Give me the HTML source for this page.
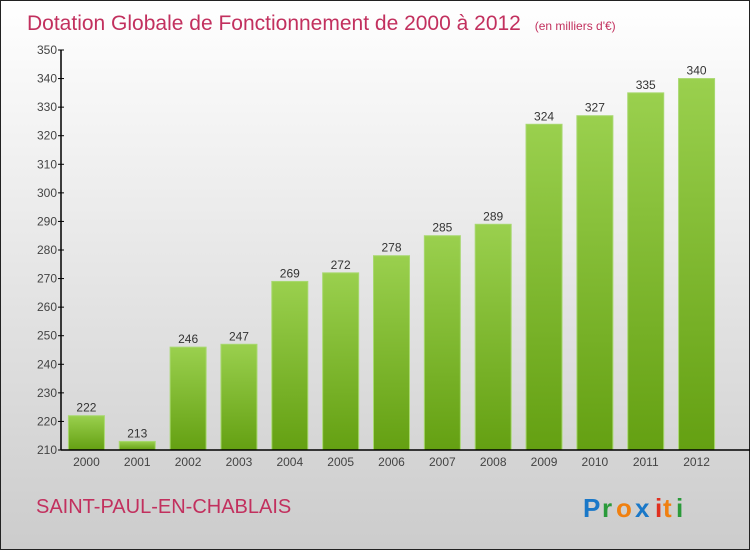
<!DOCTYPE html>
<html><head><meta charset="utf-8"><style>
body{margin:0;width:750px;height:550px;overflow:hidden}
svg{display:block}
text{font-family:"Liberation Sans",sans-serif}
</style></head><body>
<svg id="c" width="750" height="550">
<defs>
<linearGradient id="bg" x1="0" y1="0" x2="0" y2="1"><stop offset="0" stop-color="#ffffff"/><stop offset="1" stop-color="#cccccc"/></linearGradient>
<linearGradient id="bar" x1="0" y1="0" x2="0" y2="1"><stop offset="0" stop-color="#9ad04e"/><stop offset="1" stop-color="#64a012"/></linearGradient>
</defs>
<rect x="0.5" y="0.5" width="749" height="549" fill="url(#bg)" stroke="#222"/>
<text x="27" y="30" font-size="21" fill="#c2305e">Dotation Globale de Fonctionnement de 2000 à 2012 <tspan font-size="12" dx="8">(en milliers d'€)</tspan></text>
<text x="36" y="513" font-size="20" fill="#c2305e">SAINT-PAUL-EN-CHABLAIS</text>
<g font-size="26" font-weight="bold" font-family="Liberation Sans,sans-serif">
<text x="583" y="517" fill="#1a78c8">P</text><text x="602" y="517" fill="#2a9a3a">r</text><text x="616" y="517" fill="#f08010">o</text><text x="635" y="517" fill="#1a78c8">x</text><text x="655" y="517" fill="#e03020">i</text><text x="663" y="517" fill="#f08010">t</text><text x="676" y="517" fill="#2a9a3a">i</text>
</g>
<g id="plot"></g>
</svg>
<script>
const years=["2000","2001","2002","2003","2004","2005","2006","2007","2008","2009","2010","2011","2012"];
const values=[222,213,246,247,269,272,278,285,289,324,327,335,340];
const yTicks=[210,220,230,240,250,260,270,280,290,300,310,320,330,340,350];
const NS="http://www.w3.org/2000/svg";
const g=document.getElementById('plot');
const x0=61,x1=722,yMin=210,yMax=350,pTop=50,pBot=450;
const y=v=>pBot-(v-yMin)/(yMax-yMin)*(pBot-pTop);
const step=(x1-x0)/years.length;
const xc=i=>x0+step*(i+0.5);
function mk(t,a){const e=document.createElementNS(NS,t);for(const k in a)e.setAttribute(k,a[k]);g.appendChild(e);return e;}
yTicks.forEach(v=>{
 const l=mk('line',{x1:x0-3,x2:x0+3,y1:y(v),y2:y(v),stroke:'#000'});
 
 
 const t=mk('text',{x:x0-4,y:y(v)+4,'font-size':12,'text-anchor':'end',fill:'#444'});
 t.textContent=v;
 
 
});
values.forEach((v,i)=>{
 const w=36;
 const r=mk('rect',{x:xc(i)-w/2,y:y(v),width:w,height:pBot-y(v),fill:'url(#bar)',stroke:'#a8d870','stroke-width':1});
 
 
 const t=mk('text',{x:xc(i),y:y(v)-4,'font-size':12,'text-anchor':'middle',fill:'#333'});
 t.textContent=v;
 
 
 const xl=mk('text',{x:xc(i),y:pBot+16,'font-size':12,'text-anchor':'middle',fill:'#444'});
 xl.textContent=years[i];
 
 
});
const ya=mk('line',{x1:x0,x2:x0,y1:pTop,y2:pBot,stroke:'#000','stroke-width':1.5});


const xa=mk('line',{x1:x0,x2:x1+28,y1:pBot,y2:pBot,stroke:'#000','stroke-width':1.5});


</script>
</body></html>
